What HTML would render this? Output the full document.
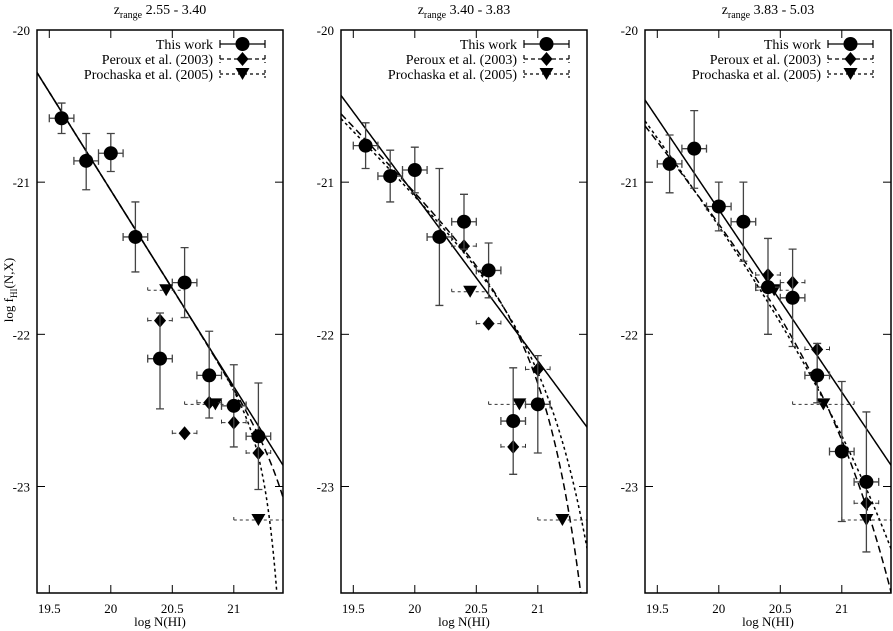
<!DOCTYPE html>
<html><head><meta charset="utf-8"><style>
html,body{margin:0;padding:0;background:#fff;width:893px;height:631px;overflow:hidden;}
svg{display:block;font-family:"Liberation Serif","DejaVu Serif",serif;}
text{font-family:"Liberation Serif","DejaVu Serif",serif;}
</style></head><body>
<svg id="chart" width="893" height="631" viewBox="0 0 893 631" font-family="Liberation Serif, DejaVu Serif, serif" xmlns="http://www.w3.org/2000/svg"></svg>
<script>
// ---- data ----
const panelTitles = ["2.55 - 3.40", "3.40 - 3.83", "3.83 - 5.03"];
const xTicks = [19.5, 20, 20.5, 21];
const xTickLabels = ["19.5", "20", "20.5", "21"];
const yTicks = [-20, -21, -22, -23];
const yTickLabels = ["-20", "-21", "-22", "-23"];
const workX = [
  [19.6, 19.8, 20.0, 20.2, 20.4, 20.6, 20.8, 21.0, 21.2],
  [19.6, 19.8, 20.0, 20.2, 20.4, 20.6, 20.8, 21.0],
  [19.6, 19.8, 20.0, 20.2, 20.4, 20.6, 20.8, 21.0, 21.2]
];
const workY = [
  [-20.58, -20.86, -20.81, -21.36, -22.16, -21.66, -22.27, -22.47, -22.67],
  [-20.76, -20.96, -20.92, -21.36, -21.26, -21.58, -22.57, -22.46],
  [-20.88, -20.78, -21.16, -21.26, -21.69, -21.76, -22.27, -22.77, -22.97]
];
const workYHi = [
  [-20.48, -20.68, -20.68, -21.13, -21.86, -21.43, -21.98, -22.20, -22.32],
  [-20.61, -20.79, -20.77, -20.91, -21.08, -21.40, -22.22, -22.14],
  [-20.69, -20.53, -21.00, -21.00, -21.37, -21.44, -22.06, -22.31, -22.51]
];
const workYLo = [
  [-20.68, -21.05, -20.93, -21.59, -22.49, -21.89, -22.55, -22.74, -23.02],
  [-20.91, -21.13, -21.07, -21.81, -21.44, -21.76, -22.92, -22.78],
  [-21.07, -21.04, -21.32, -21.52, -22.00, -22.08, -22.45, -23.23, -23.43]
];
const perouxX = [
  [20.4, 20.6, 20.8, 21.0, 21.2],
  [20.4, 20.6, 20.8, 21.0],
  [20.4, 20.6, 20.8, 21.2]
];
const perouxY = [
  [-21.91, -22.65, -22.45, -22.58, -22.78],
  [-21.42, -21.93, -22.74, -22.23],
  [-21.61, -21.66, -22.10, -23.11]
];
const prochX = [[20.45, 20.85, 21.2], [20.45, 20.85, 21.2], [20.45, 20.85, 21.2]];
const prochY = [[-21.71, -22.46, -23.22], [-21.72, -22.46, -23.22], [-21.71, -22.46, -23.22]];
const prochXLo = [[20.3, 20.6, 21.0], [20.3, 20.6, 21.0], [20.3, 20.6, 21.0]];
const prochXHi = [[20.6, 21.1, 21.4], [20.6, 21.1, 21.4], [20.6, 21.1, 21.4]];
// fit parameters [intercept at 19.4, slope, cutoff sharpness, cutoff position]
const fitSolid = [[-20.28, -1.29, 1, 99], [-20.43, -1.09, 1, 99], [-20.46, -1.20, 1, 99]];
const fitDashed = [[-20.28, -1.29, 2.7, 21.65], [-20.55, -0.85, 1.6, 21.24], [-20.61, -1.0, 0.87, 21.36]];
const fitDotted = [[-20.28, -1.29, 4.35, 21.36], [-20.58, -0.83, 1.33, 21.35], [-20.55, -1.05, 0.6, 21.6]];

// ---- layout ----
const NS = "http://www.w3.org/2000/svg";
const svg = document.getElementById("chart");
const panelLeft = [37, 341, 645];
const PW = 246, TOP = 30, BOT = 593;
const XMIN = 19.4, XMAX = 21.4, YMAX = -20, YMIN = -23.7;
function mk(tag, attrs, parent) {
  const e = document.createElementNS(NS, tag);
  for (const k in attrs) e.setAttribute(k, attrs[k]);
  (parent || svg).appendChild(e);
  return e;
}
for (let p = 0; p < 3; p++) {
  const L = panelLeft[p];
  const sx = v => L + (v - XMIN) / (XMAX - XMIN) * PW;
  const sy = v => TOP + (YMAX - v) / (YMAX - YMIN) * (BOT - TOP);
  const g = mk("g", {});
  
  
  const clipId = "clip" + p;
  const cp = mk("clipPath", { id: clipId }, g);
  mk("rect", { x: L, y: TOP, width: PW, height: BOT - TOP }, cp);

  const t = mk("text", { x: L + PW / 2, y: 14, "text-anchor": "middle", "font-size": "14" }, g);
  
  
  t.innerHTML = 'z<tspan font-size="10" dy="4">range</tspan><tspan dy="-4"> ' + panelTitles[p] + '</tspan>';

  xTicks.forEach((v, i) => {
    const x = sx(v);
    mk("line", { x1: x, y1: BOT, x2: x, y2: BOT - 8, stroke: "#000", "stroke-width": 1 }, g);
    mk("line", { x1: x, y1: TOP, x2: x, y2: TOP + 8, stroke: "#000", "stroke-width": 1 }, g);
    const tl = mk("text", { x: x, y: 613, "text-anchor": "middle", "font-size": "13" }, g);
    
    
    tl.textContent = xTickLabels[i];
  });
  yTicks.forEach((v, i) => {
    const y = sy(v);
    mk("line", { x1: L, y1: y, x2: L + 8, y2: y, stroke: "#000", "stroke-width": 1 }, g);
    mk("line", { x1: L + PW, y1: y, x2: L + PW - 8, y2: y, stroke: "#000", "stroke-width": 1 }, g);
    const tl = mk("text", { x: L - 7, y: y + 5, "text-anchor": "end", "font-size": "13" }, g);
    
    
    tl.textContent = yTickLabels[i];
  });
  const xt = mk("text", { x: L + PW / 2, y: 626, "text-anchor": "middle", "font-size": "13" }, g);
  
  
  xt.textContent = "log N(HI)";

  const fits = [[fitSolid[p], "none"], [fitDashed[p], "7,4"], [fitDotted[p], "3,3"]];
  const fitNames = ['fit-this-work', 'fit-peroux', 'fit-prochaska'];
  fits.forEach((f, fi) => {
    const [a, b, s, xc] = f[0];
    let d = "";
    for (let k = 0; k <= 200; k++) {
      const x = XMIN + (XMAX - XMIN) * k / 200;
      const y = a + b * (x - 19.4) - Math.pow(10, s * (x - xc));
      d += (k ? "L" : "M") + sx(x).toFixed(2) + "," + sy(Math.max(y, -24.5)).toFixed(2);
    }
    const path = mk("path", { d: d, fill: "none", stroke: "#000", "stroke-width": 1.5, "stroke-dasharray": f[1], "clip-path": "url(#" + clipId + ")" }, g);
    
    
  });

  prochX[p].forEach((xv, i) => {
    const x = sx(xv), y = sy(prochY[p][i]);
    const x1 = sx(prochXLo[p][i]), x2 = sx(prochXHi[p][i]);
    mk("path", { d: `M${x1},${y}H${x2}M${x1},${y-3}V${y+3}M${x2},${y-3}V${y+3}`, stroke: "#333", "stroke-width": 1, "stroke-dasharray": "3,3", fill: "none", "clip-path": "url(#" + clipId + ")" }, g);
    const m = mk("path", { d: `M${x-7},${y-6}L${x+7},${y-6}L${x},${y+6}Z`, fill: "#000" }, g);
    
    
  });
  perouxX[p].forEach((xv, i) => {
    const x = sx(xv), y = sy(perouxY[p][i]);
    const x1 = sx(xv - 0.1), x2 = sx(xv + 0.1);
    mk("path", { d: `M${x1},${y}H${x2}M${x1},${y-3}V${y+3}M${x2},${y-3}V${y+3}`, stroke: "#333", "stroke-width": 1, "stroke-dasharray": "4,3", fill: "none" }, g);
    const m = mk("path", { d: `M${x},${y-7}L${x+6},${y}L${x},${y+7}L${x-6},${y}Z`, fill: "#000" }, g);
    
    
  });
  workX[p].forEach((xv, i) => {
    const x = sx(xv), y = sy(workY[p][i]);
    const x1 = sx(xv - 0.1), x2 = sx(xv + 0.1);
    const yh = sy(workYHi[p][i]), yl = sy(workYLo[p][i]);
    mk("path", { d: `M${x1},${y}H${x2}M${x1},${y-4}V${y+4}M${x2},${y-4}V${y+4}M${x},${yh}V${yl}M${x-4},${yh}H${x+4}M${x-4},${yl}H${x+4}`, stroke: "#444", "stroke-width": 1.3, fill: "none" }, g);
    const c = mk("circle", { cx: x, cy: y, r: 7, fill: "#000" }, g);
    
    
  });

  mk("rect", { x: L, y: TOP, width: PW, height: BOT - TOP, fill: "none", stroke: "#000", "stroke-width": 1.5 }, g);

  const lg = mk("g", {}, g);
  
  
  const names = ["This work", "Peroux et al. (2003)", "Prochaska et al. (2005)"];
  const dashes = ["none", "4,3", "3,3"];
  names.forEach((n, i) => {
    const y = 44 + i * 15;
    const tx = mk("text", { x: L + 176, y: y + 5, "text-anchor": "end", "font-size": "14" }, lg);
    
    
    tx.textContent = n;
    const a = L + 183, b = L + 228, c = (a + b) / 2;
    mk("path", { d: `M${a},${y}H${b}M${a},${y-4}V${y+4}M${b},${y-4}V${y+4}`, stroke: "#000", "stroke-width": 1.2, "stroke-dasharray": dashes[i], fill: "none" }, lg);
    if (i === 0) mk("circle", { cx: c, cy: y, r: 7, fill: "#000" }, lg);
    if (i === 1) mk("path", { d: `M${c},${y-7}L${c+6},${y}L${c},${y+7}L${c-6},${y}Z`, fill: "#000" }, lg);
    if (i === 2) mk("path", { d: `M${c-7},${y-6}L${c+7},${y-6}L${c},${y+6}Z`, fill: "#000" }, lg);
  });
}
const yt = mk("text", { x: 0, y: 0, "text-anchor": "middle", "font-size": "13", transform: "translate(13,290) rotate(-90)" });


yt.innerHTML = 'log f<tspan font-size="9" dy="4">HI</tspan><tspan dy="-4">(N,X)</tspan>';
</script>
</body></html>
